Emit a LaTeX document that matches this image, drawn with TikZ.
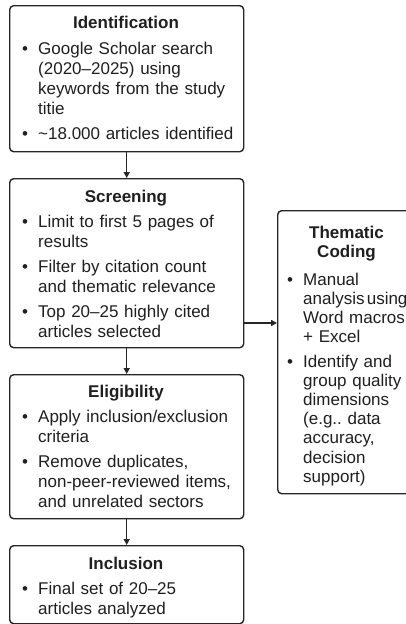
\documentclass[tikz,border=0pt]{standalone}
\usepackage{fontspec}
\setmainfont{Liberation Sans}
\usetikzlibrary{arrows.meta}
\frenchspacing
\begin{document}
\begin{tikzpicture}[x=1pt,y=-1pt,
  every node/.style={text=black!88},
  box/.style={draw=black!85, line width=1.4pt, rounded corners=4pt, anchor=north west, inner sep=0pt},
  ttl/.style={font=\fontsize{17}{20}\selectfont\bfseries, anchor=base, inner sep=0pt},
  itm/.style={font=\fontsize{17}{20}\selectfont, anchor=base west, inner sep=0pt, align=left, text width=#1},
  itm/.default=215pt,
  bul/.style={font=\fontsize{17}{20}\selectfont, anchor=base, inner sep=0pt},
  arr/.style={-{Triangle[length=6pt,width=6pt]}, line width=1.4pt, draw=black!85}]
\useasboundingbox (0,0) rectangle (406,624);
\fill[white] (0,0) rectangle (406,624);

% boxes
\node[box, minimum width=234pt, minimum height=146pt] (idf) at (9,5) {};
\node[box, minimum width=234pt, minimum height=169pt] (scr) at (9,178) {};
\node[box, minimum width=234pt, minimum height=144pt] (elg) at (9,374) {};
\node[box, minimum width=234pt, minimum height=78pt] (inc) at (9,545) {};
\node[box, minimum width=139pt, minimum height=283pt] (thm) at (277,210) {};

% Identification
\node[ttl] (idft) at (126,28) {Identification};
\node[bul] (idfb1) at (25,54) {•};
\node[itm] (idfi1) at (38,54) {Google Scholar search\\(2020–2025) using\\keywords from the study\\titie};
\node[bul] (idfb2) at (25,139) {•};
\node[itm] (idfi2) at (38,139) {\textasciitilde18.000 articles identified};

% Screening
\node[ttl] (scrt) at (126,202) {Screening};
\node[bul] (scrb1) at (25,227) {•};
\node[itm] (scri1) at (38,227) {Limit to first 5 pages of\\results};
\node[bul] (scrb2) at (25,272) {•};
\node[itm] (scri2) at (38,272) {Filter by citation count\\and thematic relevance};
\node[bul] (scrb3) at (25,317) {•};
\node[itm] (scri3) at (38,317) {Top 20–25 highly cited\\articles selected};

% Eligibility
\node[ttl] (elgt) at (126,397.5) {Eligibility};
\node[bul] (elgb1) at (25,422) {•};
\node[itm] (elgi1) at (38,422) {Apply inclusion/exclusion\\criteria};
\node[bul] (elgb2) at (25,467) {•};
\node[itm] (elgi2) at (38,467) {Remove duplicates,\\non-peer-reviewed items,\\and unrelated sectors};

% Inclusion
\node[ttl] (inct) at (126,569) {Inclusion};
\node[bul] (incb1) at (25,594) {•};
\node[itm] (inci1) at (38,594) {Final set of 20–25\\articles analyzed};

% Thematic coding
\node[ttl] (thmt1) at (346.5,238) {Thematic};
\node[ttl] (thmt2) at (346.5,257) {Coding};
\node[bul] (thmb1) at (290,285) {•};
\node[itm=150pt, font=\fontsize{17}{19.3}\selectfont] (thmi1) at (303,285) {Manual\\analysis\hspace{2.2pt}using\\Word macros\\+ Excel};
\node[bul] (thmb2) at (290,367) {•};
\node[itm=150pt, font=\fontsize{17}{19.2}\selectfont] (thmi2) at (303,367) {Identify and\\group quality\\dimensions\\(e.g.. data\\accuracy,\\decision\\support)};

% connectors
\coordinate (hy) at (0,323);
\draw[arr] (idf.south) -- (scr.north);
\draw[arr] (scr.south) -- (elg.north);
\draw[arr] (elg.south) -- (inc.north);
\draw[arr] (scr.east |- hy) -- (thm.west |- hy);
\end{tikzpicture}
\end{document}
